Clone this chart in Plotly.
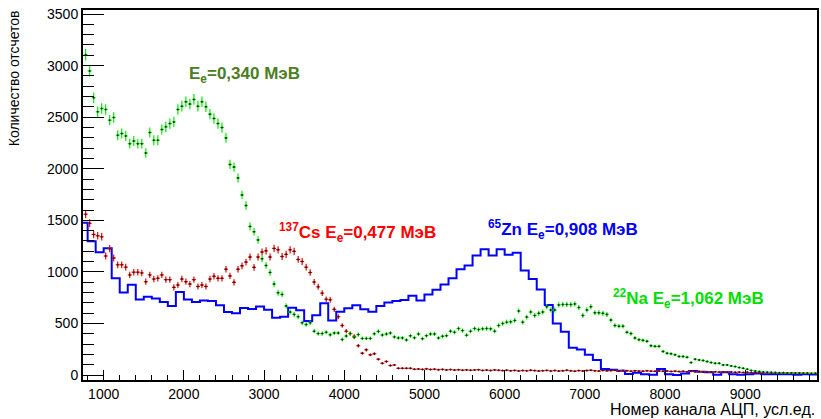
import plotly.graph_objects as go

# ---- data ----
# point series: bin centres 775 ... 9875 (bin width 50)
pt_centers = list(range(775, 9900, 50))

green_na = [
    3104, 2948, 2688, 2552, 2584, 2575, 2471, 2497, 2325, 2341,
    2318, 2243, 2269, 2243, 2243, 2153, 2351, 2276, 2276, 2380,
    2406, 2438, 2454, 2575, 2607, 2649, 2627, 2672, 2607, 2649,
    2600, 2529, 2487, 2438, 2399, 2299, 2042, 2016, 1910, 1745,
    1644, 1440, 1389, 1310, 1127, 1062, 995, 882, 798, 782,
    670, 611, 588, 565, 507, 490, 507, 425, 402, 402,
    415, 390, 408, 408, 345, 378, 404, 365, 392, 355,
    355, 355, 400, 423, 388, 397, 408, 370, 360, 360,
    340, 380, 362, 399, 353, 382, 399, 399, 360, 376,
    382, 425, 415, 451, 431, 386, 425, 451, 441, 448,
    451, 448, 425, 480, 500, 513, 516, 529, 621, 513,
    562, 611, 578, 598, 611, 663, 631, 631, 680, 685,
    685, 683, 690, 654, 578, 631, 663, 604, 604, 598,
    588, 533, 480, 474, 474, 415, 402, 359, 343, 337,
    327, 284, 278, 278, 229, 212, 206, 196, 180, 180,
    173, 121, 154, 147, 141, 131, 121, 114, 114, 98,
    98, 88, 82, 72, 65, 56, 45, 40, 35, 30,
    28, 26, 25, 23, 22, 21, 20, 19, 18, 18,
    17, 16, 16,
]

red_cs = [
    1559, 1471, 1363, 1350, 1340, 1154, 1225, 1134, 1069, 1069,
    1046, 971, 997, 997, 990, 905, 971, 931, 938, 971,
    925, 925, 850, 873, 931, 905, 882, 925, 859, 873,
    859, 931, 958, 938, 938, 1026, 961, 899, 1026, 1059,
    1095, 1144, 1044, 1144, 1193, 1204, 1144, 1228, 1214, 1149,
    1170, 1214, 1199, 1121, 1101, 1046, 994, 902, 855, 794,
    735, 729, 637, 565, 480, 425, 402, 376, 284, 212,
    245, 196, 206, 154, 114, 131, 92, 98, 65, 65,
    65, 65, 56, 58, 55, 60, 54, 57, 52, 55,
    50, 53, 48, 52, 47, 50, 46, 49, 52, 45,
    48, 44, 50, 46, 43, 47, 42, 45, 40, 44,
    41, 46, 43, 39, 42, 45, 40, 44, 39, 42,
    46, 41, 38, 43, 40, 44, 47, 42, 39, 45,
    41, 43, 46, 40, 44, 41, 38, 42, 39, 37,
    41, 38, 36, 40, 37, 39, 35, 38, 34, 36,
    33, 36, 32, 34, 30, 33, 29, 31, 28, 30,
    27, 29, 26, 28, 25, 27, 24, 26, 23, 22,
    24, 21, 23, 20, 22, 19, 21, 18, 20, 17,
    18, 16, 17,
]

# histogram: bin left edges 700 ... 9800 (bin width 100)
hist_left_edges = list(range(700, 9900, 100))
blue_zn = [
    1477, 1297, 1190, 1230, 938, 801, 876, 733, 758, 742,
    709, 670, 805, 733, 709, 722, 719, 676, 611, 598,
    650, 640, 665, 634, 556, 565, 652, 627, 523, 580,
    695, 528, 614, 647, 676, 637, 614, 670, 703, 719,
    727, 768, 722, 780, 827, 878, 938, 1026, 1062, 1160,
    1219, 1160, 1219, 1167, 1186, 1013, 931, 830, 680, 500,
    420, 265, 248, 196, 147, 59, 52, 42, 10, 23,
    8, 2, 59, 8, 0, 16, 39, 33, 26, 2,
    26, 8, 2, 8, 16, 8, 8, 8, 8, 2,
    8, 5,
]
hist_bin_width = 100
pt_half_width = 25

x_ticks = [1000, 2000, 3000, 4000, 5000, 6000, 7000, 8000, 9000]
y_ticks = [0, 500, 1000, 1500, 2000, 2500, 3000, 3500]

labels = [
    ("E<sub>e</sub>=0,340 МэВ", 2035, 2912, "#4a801e"),
    ("<sup>137</sup>Cs E<sub>e</sub>=0,477 МэВ", 3160, 1382, "#ff0000"),
    ("<sup>65</sup>Zn E<sub>e</sub>=0,908 МэВ", 5763, 1412, "#0000ff"),
    ("<sup>22</sup>Na E<sub>e</sub>=1,062 МэВ", 7330, 745, "#00e000"),
]

FONT = "Liberation Sans, Arial, Helvetica, sans-serif"

fig = go.Figure()

# blue step histogram
hx = hist_left_edges + [hist_left_edges[-1] + hist_bin_width]
hy = blue_zn + [blue_zn[-1]]
fig.add_trace(go.Scatter(
    x=hx, y=hy, mode="lines", line=dict(color="#0000ff", width=2, shape="hv"),
    hoverinfo="skip"))

def pts(vals, col):
    return go.Scatter(
        x=pt_centers, y=vals, mode="markers",
        marker=dict(color="#202020", size=2, line=dict(width=0)),
        error_y=dict(type="sqrt", color=col, thickness=1.2, width=0),
        error_x=dict(type="constant", value=pt_half_width, color=col, thickness=1.2, width=0),
    )

fig.add_trace(pts(red_cs, "#ff0000"))
fig.add_trace(pts(green_na, "#00ee00"))

for txt, x, y, c in labels:
    fig.add_annotation(x=x, y=y, xref="x", yref="y", text=txt, showarrow=False,
                       xanchor="left", yanchor="middle",
                       font=dict(family=FONT, size=17, color=c, weight="bold"))

fig.add_annotation(x=1, y=-0.081, xref="paper", yref="paper",
                   text="Номер канала АЦП, усл.ед.", showarrow=False,
                   xanchor="right", yanchor="middle",
                   font=dict(family=FONT, size=16, color="black"))
fig.add_annotation(x=-0.093, y=0.815, xref="paper", yref="paper",
                   text="Количество отсчетов", showarrow=False, textangle=-90,
                   xanchor="center", yanchor="middle",
                   font=dict(family=FONT, size=14, color="black"))

fig.update_xaxes(range=[742, 9895], tickvals=x_ticks, ticks="inside", ticklen=10,
                 tickcolor="black", tickwidth=1, ticklabeloverflow="allow",
                 minor=dict(dtick=200, tick0=0, ticks="inside", ticklen=5, tickcolor="black"),
                 showline=True, linecolor="black", linewidth=2, mirror=True,
                 showgrid=False, zeroline=False,
                 tickfont=dict(family=FONT, size=14, color="black"))
fig.update_yaxes(range=[-48, 3539], tickvals=y_ticks, ticks="inside", ticklen=21,
                 tickcolor="black", tickwidth=1, ticklabeloverflow="allow",
                 minor=dict(dtick=100, tick0=0, ticks="inside", ticklen=11, tickcolor="black"),
                 showline=True, linecolor="black", linewidth=2, mirror=True,
                 showgrid=False, zeroline=False,
                 tickfont=dict(family=FONT, size=14, color="black"))

fig.update_layout(width=821, height=419, autosize=False,
                  margin=dict(l=83, r=2, t=10, b=39),
                  paper_bgcolor="white", plot_bgcolor="white",
                  showlegend=False)

# remove the default page margin so the figure sits at the window's top-left corner
fig.write_html(
    "out.html",
    config={"displayModeBar": False},
    post_script=(
        "document.body.style.margin='0';"
        "document.body.style.overflow='hidden';"
        "document.documentElement.style.overflow='hidden';"
    ),
)
